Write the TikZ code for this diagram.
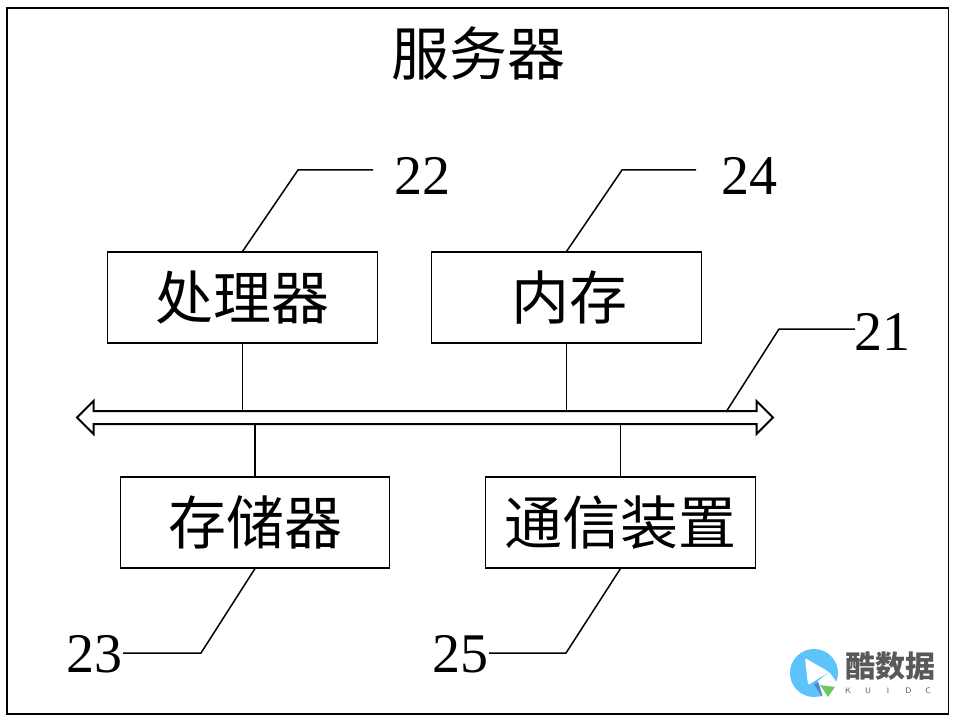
\documentclass[tikz,border=0pt]{standalone}
\usepackage{fontspec}
\setmainfont{Liberation Serif}
\newfontfamily\cjk{Noto Sans CJK SC}
\usetikzlibrary{shapes.arrows}
\definecolor{logoblue}{HTML}{5CC3FB}
\definecolor{logodark}{HTML}{4F86C6}
\definecolor{logogreen}{HTML}{6CCB5F}
\tikzset{
  unitbox/.style={draw, line width=1.1pt, minimum width=269.5pt, minimum height=91pt, inner sep=0pt, font=\cjk\fontsize{58}{58}\selectfont},
  refnum/.style={inner sep=0pt, font=\fontsize{56}{56}\selectfont},
  leader/.style={line width=1.5pt},
  stub/.style={line width=1.4pt}
}
\begin{document}
\begin{tikzpicture}[x=1pt, y=-1pt]
      \useasboundingbox (0,0) rectangle (957,719);
      \draw[line width=1.3pt] (7,8) rectangle (948.5,714);

      \node (title) at (478,53) [inner sep=0pt, font=\cjk\fontsize{58}{58}\selectfont] {服务器};

      \node (cpu) at (242.5,297.5) [unitbox] {处理器};
      \node (ram) at (566.5,297.5) [unitbox] {\hspace{5pt}内存};
      \node (disk) at (255,522.5) [unitbox] {存储器};
      \node (comm) at (620.5,522.5) [unitbox] {通信装置};

      \node (bus) at (425,417.5) [draw, line width=2pt, shape=double arrow, inner xsep=0pt, inner ysep=5.5pt, minimum height=696pt, minimum width=31pt, double arrow head extend=10pt, double arrow head indent=0pt] {};

      \coordinate (bustop) at (0,412);
      \coordinate (busbot) at (0,423);
      \draw[stub] (cpu.south) -- (cpu.south |- bustop);
      \draw[stub] (ram.south) -- (ram.south |- bustop);
      \draw[stub] (disk.north) -- (disk.north |- busbot);
      \draw[stub] (comm.north) -- (comm.north |- busbot);

      \node (n22) at (422,176) [refnum] {22};
      \node (n24) at (749,176) [refnum] {24};
      \node (n21) at (882,332) [refnum] {21};
      \node (n23) at (94,654) [refnum] {23};
      \node (n25) at (460,654) [refnum] {25};

      \coordinate (k22) at (298,170);
      \coordinate (k24) at (622,170);
      \coordinate (k21) at (779,329);
      \coordinate (k23) at (201,653);
      \coordinate (k25) at (566,653);
      \coordinate (b21) at (726,412);

      \draw[leader] (cpu.north) -- (k22) -- (373,170);
      \draw[leader] (ram.north) -- (k24) -- (696,170);
      \draw[leader] (b21) -- (k21) -- (855,329);
      \draw[leader] (disk.south) -- (k23) -- (123,653);
      \draw[leader] (comm.south) -- (k25) -- (489,653);

      % logo
      \fill[logoblue] (814,673) circle (24);
      \fill[white, rounded corners=2pt] (805,658) -- (829,672) -- (808,685) -- cycle;
      \fill[logodark] (814,684) -- (819,682) -- (822,697) -- cycle;
      \fill[white] (818,681) -- (829,672) -- (838,684) -- (829,699) -- (824,699) -- cycle;
      \fill[logogreen] (820,685) -- (835,687) -- (828,697) -- cycle;
      \node (logotext) at (890,666) [inner sep=0pt, text=black!65, font=\cjk\bfseries\fontsize{30}{30}\selectfont] {酷数据};
      \node (logosub) at (888,691) [inner sep=0pt, text=black!65, font=\sffamily\fontsize{8}{8}\selectfont] {K\hspace{14pt}U\hspace{16pt}I\hspace{16pt}D\hspace{14pt}C};
    \end{tikzpicture}
\end{document}
